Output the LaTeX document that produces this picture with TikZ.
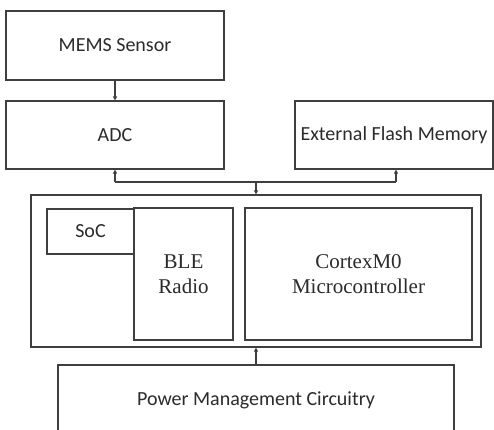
\documentclass[tikz,border=0pt]{standalone}
\usepackage{fontspec}
\setmainfont{Liberation Serif}
\newfontfamily\labelsans{Carlito}
\usetikzlibrary{arrows.meta}
\definecolor{edge}{HTML}{3F3F3F}
\definecolor{ink}{HTML}{2B2B2B}
\tikzset{
  blk/.style={draw=edge, line width=1.2pt, rectangle, inner sep=0pt, text=ink},
  sanslabel/.style={font=\labelsans\fontsize{20}{24}\selectfont},
  seriflabel/.style={font=\fontsize{21}{25}\selectfont, align=center},
  link/.style={draw=edge, line width=1.2pt, -{Triangle[length=4pt,width=4pt]}},
  wire/.style={draw=edge, line width=1.2pt}
}
\begin{document}
\begin{tikzpicture}[x=1pt, y=-1pt]
\useasboundingbox[fill=white] (0,0) rectangle (494,429);

% top row: sensor chain and external memory
\node[blk, sanslabel, minimum width=218pt, minimum height=69pt] (mems) at (115,45.5) {MEMS Sensor};
\node[blk, sanslabel, minimum width=218pt, minimum height=68pt] (adc) at (115,135) {ADC};
\node[blk, sanslabel, minimum width=198pt, minimum height=68pt] (flash) at (394,135) {External Flash Memory};

% system-on-chip enclosure and its blocks
\node[blk, minimum width=450pt, minimum height=152pt] (soc) at (256,271) {};
\node[blk, sanslabel, minimum width=87pt, minimum height=45pt] (soclabel) at (90.5,231.5) {SoC};
\node[blk, seriflabel, minimum width=99pt, minimum height=132pt] (ble) at (183.5,274) {BLE\\Radio};
\node[blk, seriflabel, minimum width=227pt, minimum height=132pt] (mcu) at (358.5,274) {CortexM0\\Microcontroller};

% power supply
\node[blk, sanslabel, minimum width=396pt, minimum height=71pt] (pmu) at (256,400.5) {Power Management Circuitry};

% shared bus between the SoC, the ADC and the flash
\coordinate (busL) at (115,182);
\coordinate (busR) at (396,182);
\coordinate (busM) at (256,182);

\draw[link] (mems.south) -- (adc.north);
\draw[wire] (busL) -- (busR);
\draw[link] (busL) -- (adc.south);
\draw[link] (busR) -- (busR |- flash.south);
\draw[link] (busM) -- (busM |- soc.north);
\draw[link] (pmu.north) -- (soc.south);
\end{tikzpicture}
\end{document}
